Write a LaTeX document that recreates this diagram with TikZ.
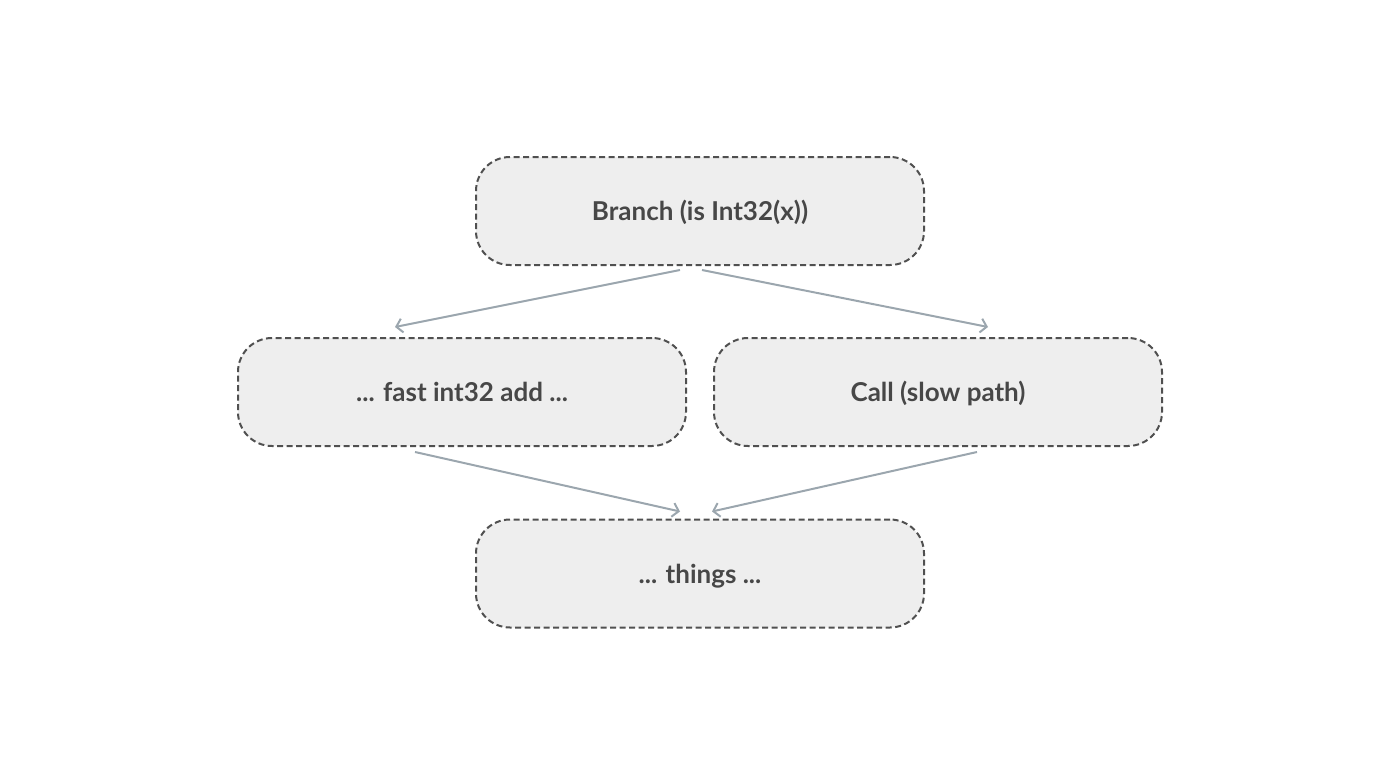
\documentclass[tikz,border=0pt]{standalone}
\usepackage{fontspec}
\setmainfont{Lato}
\usetikzlibrary{arrows.meta}
\definecolor{boxfill}{HTML}{EEEEEE}
\definecolor{boxline}{HTML}{505050}
\definecolor{txt}{HTML}{474747}
\definecolor{edge}{HTML}{9BA6AE}

\begin{document}
\begin{tikzpicture}[x=1pt,y=-1pt,>={Straight Barb[length=6pt,width=14pt]},
  blk/.style={draw=boxline,fill=boxfill,dash pattern=on 6pt off 3.5pt,line width=2pt,rounded corners=34pt,
    minimum width=448pt,minimum height=108pt,text height=19pt,text depth=0pt,
    text=txt,font=\fontsize{26}{30}\selectfont\bfseries},
  flow/.style={edge,line width=2pt,->}]
  \useasboundingbox (0,0) rectangle (1400,784);
  \node[blk] (br) at (700,211) {Branch (is Int32(x))};
  \node[blk] (fast) at (462,392) {... fast int32 add ...};
  \node[blk] (slow) at (938,392) {Call (slow path)};
  \node[blk] (th) at (700,573.5) {... things ...};
  \draw[flow] ([xshift=-20pt,yshift=-4pt]br.south)--([xshift=-67pt,yshift=10pt]fast.north);
  \draw[flow] ([xshift=2pt,yshift=-4pt]br.south)--([xshift=50pt,yshift=10pt]slow.north);
  \draw[flow] ([xshift=-47pt,yshift=-5pt]fast.south)--([xshift=-20pt,yshift=7pt]th.north);
  \draw[flow] ([xshift=39pt,yshift=-5pt]slow.south)--([xshift=12pt,yshift=7pt]th.north);
\end{tikzpicture}
\end{document}
